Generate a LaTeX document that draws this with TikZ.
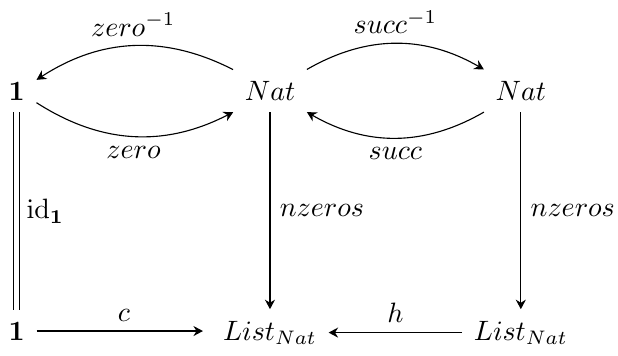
\documentclass[tikz,border=0pt]{standalone}
\usepackage{amsmath,amssymb}
\usetikzlibrary{arrows.meta}

\begin{document}
\begin{tikzpicture}[>={Stealth[length=3.4pt,width=3.6pt]},
  obj/.style={anchor=base,inner sep=4pt},
  map/.style={->}]
\useasboundingbox (0,0) rectangle (7.76,4.47);

%---------------- Objects ----------------
\node[obj] (oneT) at (0.21,3.21) {$\mathbf{1}$};
\node[obj] (natL) at (3.39,3.21) {$Nat$};
\node[obj] (natR) at (6.54,3.21) {$Nat$};
\node[obj] (oneB) at (0.21,0.20) {$\mathbf{1}$};
\node[obj] (listL) at (3.39,0.20) {$List_{Nat}$};
\node[obj] (listR) at (6.54,0.20) {$List_{Nat}$};

%---------------- Top row: zero and succ ----------------
\draw[map] (natL) to[bend right=30] node[above]{$zero^{-1}$} (oneT);
\draw[map] (oneT) to[bend right=30] node[below]{$zero$} (natL);
\draw[map] (natL) to[bend left=30] node[above]{$succ^{-1}$} (natR);
\draw[map] (natR) to[bend left=30] node[below]{$succ$} (natL);

%---------------- Verticals ----------------
\draw[double,double distance=1.6pt] (oneT) -- (oneB)
  node[midway,right]{$\mathrm{id}_{\mathbf{1}}$};
\draw[map] (natL) -- (listL) node[midway,right]{$nzeros$};
\draw[map] (natR) -- (listR) node[midway,right]{$nzeros$};

%---------------- Bottom row ----------------
\draw[map,shorten >=3pt] (oneB) -- (oneB -| listL.west) node[midway,above]{$c$};
\draw[map] (listR) -- (listL) node[midway,above]{$h$};

\end{tikzpicture}
\end{document}
